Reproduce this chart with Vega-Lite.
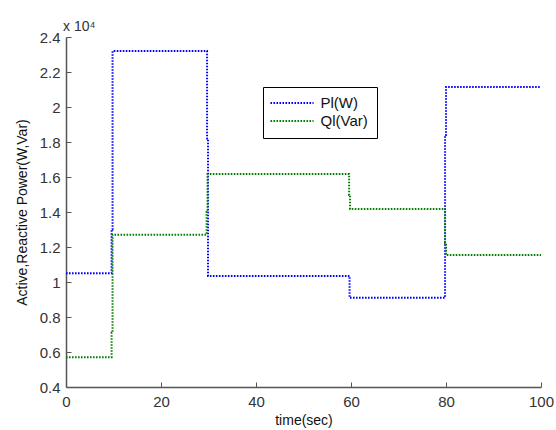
{
  "$schema": "https://vega.github.io/schema/vega-lite/v6.json",
  "width": 475,
  "height": 350,
  "autosize": {"type": "none"},
  "padding": {"left": 66, "top": 37, "right": 15, "bottom": 43},
  "background": "white",
  "config": {
    "view": {"stroke": null},
    "font": "Liberation Sans",
    "axis": {
      "grid": false,
      "domainColor": "#555555",
      "tickColor": "#555555",
      "domainWidth": 1.5,
      "tickWidth": 1,
      "tickSize": -5,
      "labelFlush": false,
      "labelFont": "Liberation Sans",
      "labelFontSize": 15,
      "labelColor": "#333333",
      "titleFont": "Liberation Sans",
      "titleFontSize": 14,
      "titleFontWeight": "normal",
      "titleColor": "#111111"
    }
  },
  "title": {
    "text": "x 10⁴",
    "anchor": "start",
    "frame": "group",
    "font": "Liberation Sans",
    "fontSize": 14,
    "fontWeight": "normal",
    "color": "#333333",
    "offset": -4,
    "dx": -3
  },
  "data": {
    "values": [
      {"series": "Pl(W)", "i": 0, "t": 0, "p": 10500},
      {"series": "Pl(W)", "i": 1, "t": 9.6, "p": 10500},
      {"series": "Pl(W)", "i": 2, "t": 9.6, "p": 13000},
      {"series": "Pl(W)", "i": 3, "t": 9.8, "p": 13000},
      {"series": "Pl(W)", "i": 4, "t": 9.8, "p": 23200},
      {"series": "Pl(W)", "i": 5, "t": 29.7, "p": 23200},
      {"series": "Pl(W)", "i": 6, "t": 29.7, "p": 18200},
      {"series": "Pl(W)", "i": 7, "t": 29.9, "p": 18200},
      {"series": "Pl(W)", "i": 8, "t": 29.9, "p": 10350},
      {"series": "Pl(W)", "i": 9, "t": 59.7, "p": 10350},
      {"series": "Pl(W)", "i": 10, "t": 59.7, "p": 9100},
      {"series": "Pl(W)", "i": 11, "t": 79.8, "p": 9100},
      {"series": "Pl(W)", "i": 12, "t": 79.8, "p": 18400},
      {"series": "Pl(W)", "i": 13, "t": 80.0, "p": 18400},
      {"series": "Pl(W)", "i": 14, "t": 80.0, "p": 21150},
      {"series": "Pl(W)", "i": 15, "t": 100, "p": 21150},
      {"series": "Ql(Var)", "i": 0, "t": 0, "p": 5700},
      {"series": "Ql(Var)", "i": 1, "t": 9.6, "p": 5700},
      {"series": "Ql(Var)", "i": 2, "t": 9.6, "p": 7100},
      {"series": "Ql(Var)", "i": 3, "t": 9.8, "p": 7100},
      {"series": "Ql(Var)", "i": 4, "t": 9.8, "p": 12700},
      {"series": "Ql(Var)", "i": 5, "t": 29.6, "p": 12700},
      {"series": "Ql(Var)", "i": 6, "t": 29.6, "p": 14000},
      {"series": "Ql(Var)", "i": 7, "t": 29.8, "p": 14000},
      {"series": "Ql(Var)", "i": 8, "t": 29.8, "p": 16170},
      {"series": "Ql(Var)", "i": 9, "t": 59.6, "p": 16170},
      {"series": "Ql(Var)", "i": 10, "t": 59.6, "p": 14970},
      {"series": "Ql(Var)", "i": 11, "t": 59.8, "p": 14970},
      {"series": "Ql(Var)", "i": 12, "t": 59.8, "p": 14170},
      {"series": "Ql(Var)", "i": 13, "t": 79.8, "p": 14170},
      {"series": "Ql(Var)", "i": 14, "t": 79.8, "p": 12230},
      {"series": "Ql(Var)", "i": 15, "t": 80.0, "p": 12230},
      {"series": "Ql(Var)", "i": 16, "t": 80.0, "p": 11540},
      {"series": "Ql(Var)", "i": 17, "t": 100, "p": 11540}
    ]
  },
  "mark": {"type": "line", "strokeWidth": 2, "strokeDash": [1.6, 1.4], "clip": true},
  "encoding": {
    "x": {
      "field": "t",
      "type": "quantitative",
      "scale": {"domain": [0, 100], "nice": false},
      "axis": {"values": [0, 20, 40, 60, 80, 100], "title": "time(sec)", "titlePadding": 4, "labelPadding": 12}
    },
    "y": {
      "field": "p",
      "type": "quantitative",
      "scale": {"domain": [4000, 24000], "nice": false, "zero": false},
      "axis": {
        "values": [4000, 6000, 8000, 10000, 12000, 14000, 16000, 18000, 20000, 22000, 24000],
        "labelExpr": "'' + (datum.value / 10000)",
        "title": "Active,Reactive Power(W,Var)",
        "titlePadding": 10,
        "labelPadding": 11
      }
    },
    "color": {
      "field": "series",
      "type": "nominal",
      "scale": {"domain": ["Pl(W)", "Ql(Var)"], "range": ["#0000ff", "#008000"]},
      "legend": {
        "title": null,
        "orient": "none",
        "legendX": 197,
        "legendY": 50,
        "symbolType": "M-4,0H4",
        "symbolSize": 116,
        "symbolStrokeWidth": 2,
        "symbolDash": [1.6, 1.4],
        "symbolOffset": 13,
        "labelFont": "Liberation Sans",
        "labelFontSize": 15,
        "labelColor": "#111111",
        "labelOffset": 21,
        "strokeColor": "#000000",
        "fillColor": "white",
        "padding": 8.5,
        "rowPadding": 2
      }
    },
    "order": {"field": "i", "type": "quantitative"}
  }
}
